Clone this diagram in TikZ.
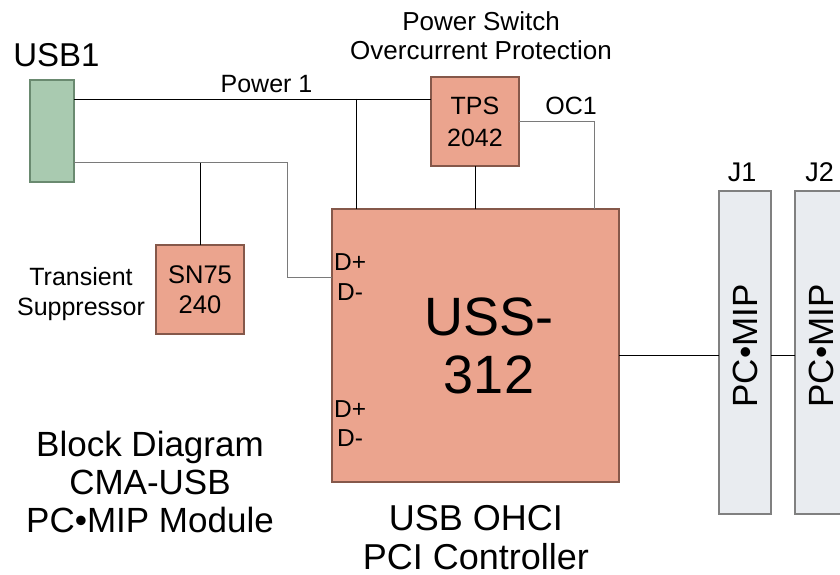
\documentclass[tikz,border=0pt]{standalone}
\usepackage{fontspec}
\setmainfont{Liberation Sans}
\definecolor{chipfill}{HTML}{EBA48E}
\definecolor{chipline}{HTML}{85584A}
\definecolor{usbfill}{HTML}{A9CAB0}
\definecolor{usbline}{HTML}{6A8A70}
\definecolor{jfill}{HTML}{E9ECF0}
\definecolor{jline}{HTML}{808080}
\definecolor{wiregray}{HTML}{7A7A7A}
\newcommand\myfs[2]{\fontsize{#1}{#2}\selectfont}
\begin{document}
\begin{tikzpicture}[x=1pt,y=-1pt,
  chip/.style={draw=chipline, fill=chipfill, line width=1.2pt, inner sep=0pt, outer sep=0pt},
  usbbox/.style={draw=usbline, fill=usbfill, line width=1.2pt, inner sep=0pt, outer sep=0pt},
  jbox/.style={draw=jline, fill=jfill, line width=1.2pt, inner sep=0pt, outer sep=0pt},
  wire/.style={line width=0.9pt, draw=black},
  gwire/.style={line width=0.9pt, draw=wiregray},
  lbl/.style={inner sep=0pt, anchor=base, align=center, text=black},
]
\clip (0,0) rectangle (840,575);
\fill[white] (0,0) rectangle (840,575);
% boxes
\node[usbbox, minimum width=44pt, minimum height=102pt] (usb) at (52,131) {};
\node[chip, minimum width=88pt, minimum height=89pt, font=\myfs{25}{32}, align=center] (tps) at (475,121.5) {TPS\\2042};
\node[chip, minimum width=287pt, minimum height=273pt] (uss) at (475.5,345.5) {};
\node[chip, minimum width=88pt, minimum height=89pt, font=\myfs{25.5}{30}, align=center] (sn) at (200,289.5) {SN75\\240};
\node[jbox, minimum width=52pt, minimum height=323pt] (j1) at (745,352.5) {};
\node[jbox, minimum width=52pt, minimum height=323pt] (j2) at (821,352.5) {};
% helper coordinates
\coordinate (yp) at (0,99);
\coordinate (yd) at (0,162.5);
\coordinate (xv) at (356,0);
\coordinate (xd) at (287.5,0);
\coordinate (yd2) at (0,277);
\coordinate (xoc) at (594,0);
\coordinate (yoc) at (0,121);
\coordinate (yj) at (0,355);
% wires
\draw[wire] (usb.east |- yp) -- (tps.west |- yp);
\draw[wire] (xv |- yp) -- (xv |- uss.north);
\draw[wire] (tps.south) -- (tps.south |- uss.north);
\draw[gwire] (tps.east |- yoc) -| (xoc |- uss.north);
\draw[gwire] (usb.east |- yd) -| (xd |- yd2) -- (uss.west |- yd2);
\draw[wire] (sn.north |- yd) -- (sn.north);
\draw[wire] (uss.east |- yj) -- (j1.west |- yj);
\draw[wire] (j1.east |- yj) -- (j2.west |- yj);
% labels (multi-line: base anchor is the last line's baseline)
\node[lbl, font=\myfs{33}{36}] (usbl) at (56.5,67) {USB1};
\node[lbl, font=\myfs{25}{30}] (pwl) at (266.5,93) {Power 1};
\node[lbl, font=\myfs{26}{29}] (psl) at (481,60) {Power Switch\\Overcurrent Protection};
\node[lbl, font=\myfs{25}{30}] (ocl) at (571,115) {OC1};
\node[lbl, font=\myfs{25}{30}] (trl) at (81,315) {Transient\\Suppressor};
\node[lbl, font=\myfs{54}{58}] (ussl) at (489,393) {USS-\\312};
\node[lbl, anchor=base west, font=\myfs{24.5}{30}] (dp1) at (334,270) {D+};
\node[lbl, anchor=base west, font=\myfs{24.5}{30}] (dm1) at (337,300) {D-};
\node[lbl, anchor=base west, font=\myfs{24.5}{30}] (dp2) at (334,417) {D+};
\node[lbl, anchor=base west, font=\myfs{24.5}{30}] (dm2) at (337,446) {D-};
\node[lbl, font=\myfs{27}{30}] (j1l) at (742,181) {J1};
\node[lbl, font=\myfs{27}{30}] (j2l) at (819.5,181) {J2};
\node[lbl, rotate=90, font=\myfs{35}{40}] (pm1) at (757,346) {PC•MIP};
\node[lbl, rotate=90, font=\myfs{35}{40}] (pm2) at (833,346) {PC•MIP};
\node[lbl, font=\myfs{35}{38}] (bdl) at (150,532) {Block Diagram\\CMA-USB\\PC•MIP Module};
\node[lbl, font=\myfs{36}{39}] (ohl) at (476,569) {USB OHCI\\PCI Controller};
\end{tikzpicture}
\end{document}
